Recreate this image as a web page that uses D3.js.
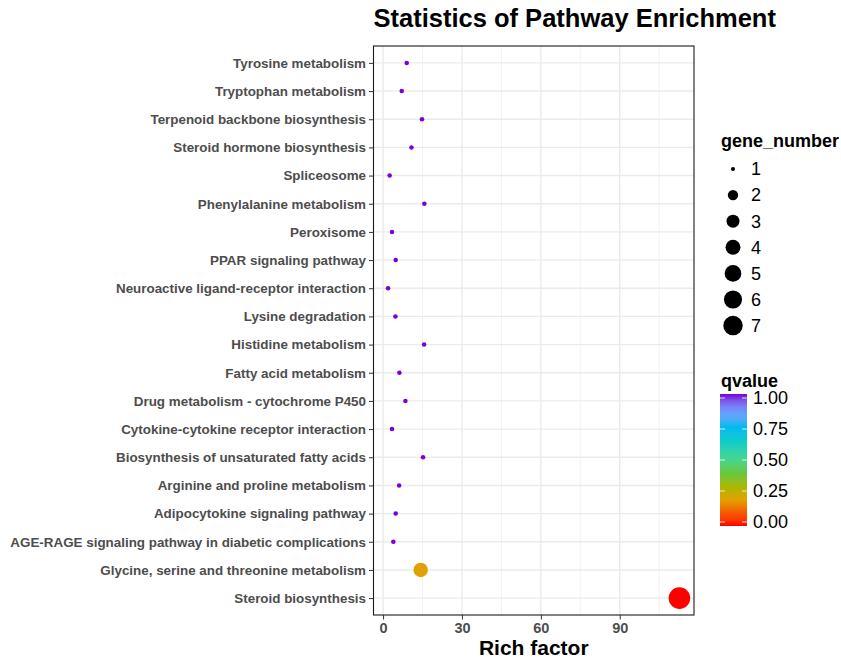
<!DOCTYPE html>
<html>
<head>
<meta charset="utf-8">
<script src="https://cdn.jsdelivr.net/npm/d3@7"></script>
<style>
  html, body { margin: 0; padding: 0; background: #fff; }
  svg { display: block; font-family: "Liberation Sans", Arial, Helvetica, sans-serif; }
</style>
</head>
<body>
<svg id="chart" width="841" height="659"></svg>
<script>
// Pathway names, listed top to bottom as they appear on the y axis
const pathways = [
  "Tyrosine metabolism",
  "Tryptophan metabolism",
  "Terpenoid backbone biosynthesis",
  "Steroid hormone biosynthesis",
  "Spliceosome",
  "Phenylalanine metabolism",
  "Peroxisome",
  "PPAR signaling pathway",
  "Neuroactive ligand-receptor interaction",
  "Lysine degradation",
  "Histidine metabolism",
  "Fatty acid metabolism",
  "Drug metabolism - cytochrome P450",
  "Cytokine-cytokine receptor interaction",
  "Biosynthesis of unsaturated fatty acids",
  "Arginine and proline metabolism",
  "Adipocytokine signaling pathway",
  "AGE-RAGE signaling pathway in diabetic complications",
  "Glycine, serine and threonine metabolism",
  "Steroid biosynthesis"
];
const richFactor = [9.0, 7.1, 14.8, 10.8, 2.5, 15.7, 3.4, 4.8, 1.9, 4.7,
                    15.6, 6.2, 8.5, 3.4, 15.2, 6.1, 4.8, 3.9, 14.3, 112.7];
const geneNumber = [1, 1, 1, 1, 1, 1, 1, 1, 1, 1,
                    1, 1, 1, 1, 1, 1, 1, 1, 3, 7];
const qValue     = [1, 1, 1, 1, 1, 1, 1, 1, 1, 1,
                    1, 1, 1, 1, 1, 1, 1, 1, 0.2, 0];

const xTicks = [0, 30, 60, 90];
const xMinorTicks = [15, 45, 75, 105];
const sizeBreaks = [1, 2, 3, 4, 5, 6, 7];
const qBreaks = [0, 0.25, 0.5, 0.75, 1];

const rows = pathways.map((p, i) => ({
  pathway: p, rich: richFactor[i], genes: geneNumber[i], q: qValue[i]
}));

const svg = d3.select("#chart");
const panel = { left: 373.5, right: 694, top: 46, bottom: 615 };

// x: continuous with 5% expansion on each side of the data range
const [xmin, xmax] = d3.extent(richFactor);
const pad = (xmax - xmin) * 0.05;
const x = d3.scaleLinear()
  .domain([xmin - pad, xmax + pad])
  .range([panel.left, panel.right]);

// y: discrete, 0.6 step of padding at each end
const y = d3.scalePoint()
  .domain(pathways)
  .range([panel.top, panel.bottom])
  .padding(0.6);

// point size: area-proportional between size 1 and 6, converted to pixels
const unit = d3.scaleLinear().domain([1, 7]).range([0, 1]);
const sizeOf = d3.scaleLinear().domain([0, 1]).range([1, 6]);
const radius = v => 1.2 * (sizeOf(Math.sqrt(unit(v))) * 2.845 + 0.94) / 2;

// colour scale for q-value
const colour = d3.scaleLinear()
  .domain([0, 0.1, 0.2, 0.3, 0.4, 0.5, 0.625, 0.75, 0.875, 1])
  .range(["#ff0000", "#f55800", "#e0a200", "#a8b800", "#66c83c", "#44d68c",
          "#00cfc4", "#00baf0", "#6f9cff", "#7a00d8"])
  .interpolate(d3.interpolateLab);

// panel background and grid
svg.append("rect")
  .attr("x", panel.left).attr("y", panel.top)
  .attr("width", panel.right - panel.left).attr("height", panel.bottom - panel.top)
  .attr("fill", "#fff");

const grid = svg.append("g");
grid.selectAll(".minor").data(xMinorTicks).join("line")
  .attr("x1", d => x(d)).attr("x2", d => x(d))
  .attr("y1", panel.top).attr("y2", panel.bottom)
  .attr("stroke", "#f2f2f2").attr("stroke-width", 1);
grid.selectAll(".majx").data(xTicks).join("line")
  .attr("x1", d => x(d)).attr("x2", d => x(d))
  .attr("y1", panel.top).attr("y2", panel.bottom)
  .attr("stroke", "#ebebeb").attr("stroke-width", 1.4);
grid.selectAll(".majy").data(pathways).join("line")
  .attr("x1", panel.left).attr("x2", panel.right)
  .attr("y1", d => y(d)).attr("y2", d => y(d))
  .attr("stroke", "#ebebeb").attr("stroke-width", 1.4);

// points
svg.append("g").selectAll("circle").data(rows).join("circle")
  .attr("cx", d => x(d.rich))
  .attr("cy", d => y(d.pathway))
  .attr("r", d => radius(d.genes))
  .attr("fill", d => colour(d.q));

// panel border
svg.append("rect")
  .attr("x", panel.left).attr("y", panel.top)
  .attr("width", panel.right - panel.left).attr("height", panel.bottom - panel.top)
  .attr("fill", "none").attr("stroke", "#1a1a1a").attr("stroke-width", 1.1);

// axes
const xAxis = svg.append("g")
  .attr("transform", `translate(0,${panel.bottom})`)
  .call(d3.axisBottom(x).tickValues(xTicks).tickSize(4.5).tickPadding(3).tickSizeOuter(0));
xAxis.select(".domain").remove();
xAxis.selectAll(".tick line").attr("stroke", "#333");
xAxis.selectAll(".tick text")
  .attr("fill", "#4d4d4d").attr("font-size", 14.5).attr("font-weight", "bold")
  .attr("font-family", "Liberation Sans, Arial, sans-serif");

const yAxis = svg.append("g")
  .attr("transform", `translate(${panel.left},0)`)
  .call(d3.axisLeft(y).tickSize(4.5).tickPadding(3).tickSizeOuter(0));
yAxis.select(".domain").remove();
yAxis.selectAll(".tick line").attr("stroke", "#333");
yAxis.selectAll(".tick text")
  .attr("fill", "#4d4d4d").attr("font-size", 13.4).attr("font-weight", "bold")
  .attr("font-family", "Liberation Sans, Arial, sans-serif");

// titles
svg.append("text")
  .attr("x", panel.left).attr("y", 27)
  .attr("font-size", 25.5).attr("font-weight", "bold").attr("fill", "#000")
  .text("Statistics of Pathway Enrichment");

svg.append("text")
  .attr("x", (panel.left + panel.right) / 2).attr("y", 655)
  .attr("text-anchor", "middle")
  .attr("font-size", 21).attr("font-weight", "bold").attr("fill", "#000")
  .text("Rich factor");

// size legend
const sizeLegend = svg.append("g");
sizeLegend.append("text")
  .attr("x", 721).attr("y", 147)
  .attr("font-size", 18).attr("font-weight", "bold")
  .text("gene_number");
const sizeItems = sizeLegend.selectAll(".item").data(sizeBreaks).join("g")
  .attr("transform", (d, i) => `translate(0,${169 + i * 26.1})`);
sizeItems.append("circle")
  .attr("cx", 733).attr("cy", 0)
  .attr("r", d => radius(d) * 0.9)
  .attr("fill", "#000");
sizeItems.append("text")
  .attr("x", 751).attr("y", 0).attr("dy", "0.35em")
  .attr("font-size", 18)
  .text(d => d);

// colour bar legend
const bar = { x: 720, w: 27, top: 394, bottom: 526 };
const qy = d3.scaleLinear().domain([0, 1]).range([522, 398]);
const defs = svg.append("defs");
const grad = defs.append("linearGradient")
  .attr("id", "qgrad").attr("x1", 0).attr("y1", 1).attr("x2", 0).attr("y2", 0);
d3.range(0, 1.0001, 0.05).forEach(t => {
  grad.append("stop").attr("offset", t).attr("stop-color", colour(t));
});
svg.append("text")
  .attr("x", 721).attr("y", 387)
  .attr("font-size", 18).attr("font-weight", "bold")
  .text("qvalue");
svg.append("rect")
  .attr("x", bar.x).attr("y", bar.top)
  .attr("width", bar.w).attr("height", bar.bottom - bar.top)
  .attr("fill", "url(#qgrad)");
svg.append("g").selectAll("line").data(qBreaks).join("line")
  .attr("x1", bar.x).attr("x2", bar.x + 5)
  .attr("y1", d => qy(d)).attr("y2", d => qy(d))
  .attr("stroke", "#fff").attr("stroke-opacity", 0.8);
svg.append("g").selectAll("line").data(qBreaks).join("line")
  .attr("x1", bar.x + bar.w - 5).attr("x2", bar.x + bar.w)
  .attr("y1", d => qy(d)).attr("y2", d => qy(d))
  .attr("stroke", "#fff").attr("stroke-opacity", 0.8);
svg.append("g").selectAll("text").data(qBreaks).join("text")
  .attr("x", 753).attr("y", d => qy(d)).attr("dy", "0.35em")
  .attr("font-size", 18)
  .text(d => d3.format(".2f")(d));
</script>
</body>
</html>
